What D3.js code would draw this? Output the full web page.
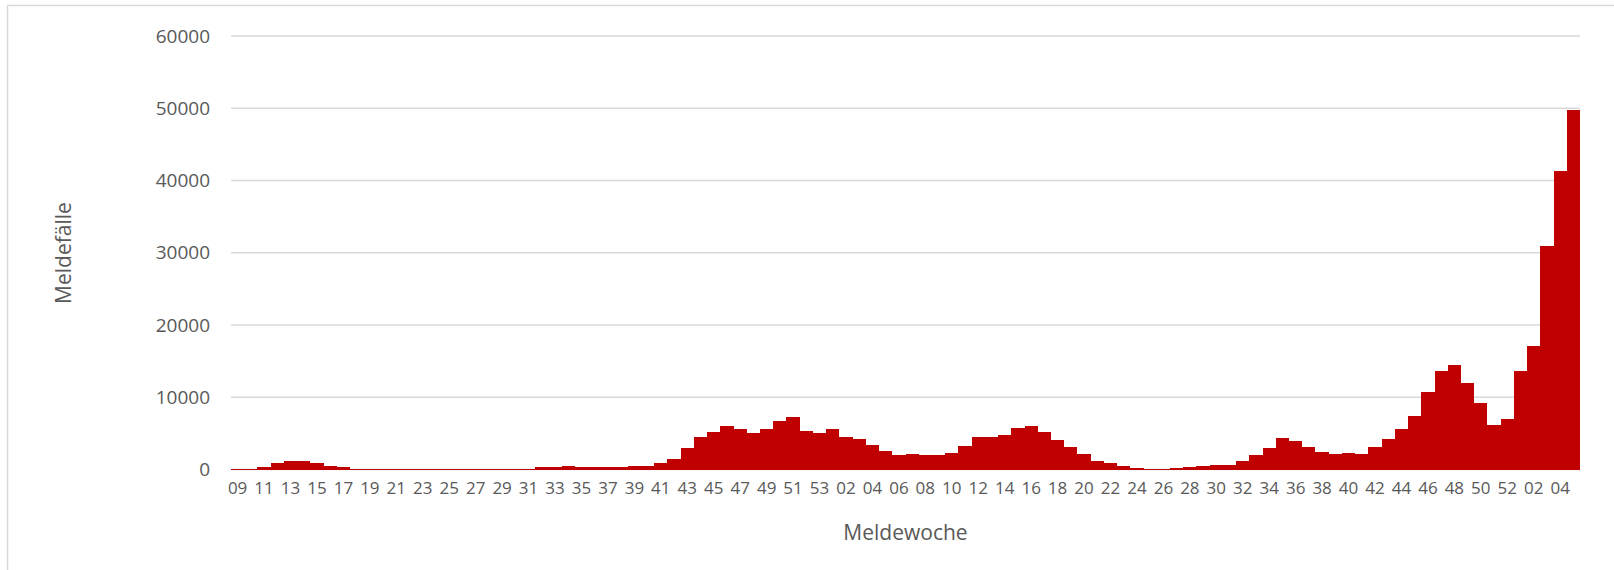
<!DOCTYPE html>
<html>
<head>
<meta charset="utf-8">
<script src="https://cdn.jsdelivr.net/npm/d3@7"></script>
<style>
  html, body { margin: 0; padding: 0; background: #fff; }
  #container { width: 1614px; height: 570px; }
</style>
</head>
<body>
<div id="container"></div>
<script>
// Meldewochen 2020/09 .. 2022/05
const weeks = [
  "09","10","11","12","13","14","15","16","17","18","19","20","21","22","23","24","25","26","27","28","29","30",
  "31","32","33","34","35","36","37","38","39","40","41","42","43","44","45","46","47","48","49","50","51","52","53",
  "01","02","03","04","05","06","07","08","09","10","11","12","13","14","15","16","17","18","19","20","21","22",
  "23","24","25","26","27","28","29","30","31","32","33","34","35","36","37","38","39","40","41","42","43","44",
  "45","46","47","48","49","50","51","52",
  "01","02","03","04","05"
];

const cases = [
  // 2020
  100, 100, 280, 920, 1240, 1240, 920, 550, 280, 100, 100, 90, 90, 90, 90, 90, 90, 90, 90, 100, 100, 110,
  130, 320, 320, 460, 280, 280, 280, 280, 460, 460, 920, 1520, 2960, 4510, 5150, 5980, 5660, 5060, 5660, 6760, 7270, 5340, 5060,
  // 2021
  5660, 4550, 4230, 3450, 2620, 2020, 2160, 2020, 2020, 2350, 3270, 4510, 4510, 4740, 5800, 5980, 5150, 4050, 3080, 2160, 1150, 850,
  520, 230, 100, 100, 230, 370, 550, 690, 690, 1240, 1980, 2940, 4370, 3910, 3130, 2480, 2160, 2300, 2160, 3130, 4230, 5660,
  7400, 10760, 13570, 14400, 12000, 9150, 6160, 7040,
  // 2022
  13620, 17110, 30960, 41310, 49700
];

const yTicks = [0, 10000, 20000, 30000, 40000, 50000, 60000];

const width = 1614, height = 570;
const margin = { top: 36, right: 34, bottom: 100, left: 231 };

const svg = d3.select("#container")
  .append("svg")
  .attr("width", width)
  .attr("height", height);

// Rahmen (rechts/unten abgeschnitten)
svg.append("rect")
  .attr("x", 7.5)
  .attr("y", 5.5)
  .attr("width", width)
  .attr("height", height)
  .attr("fill", "none")
  .attr("stroke", "#d9d9d9")
  .attr("stroke-width", 1.5);

const x = d3.scaleBand()
  .domain(d3.range(cases.length))
  .range([margin.left, width - margin.right])
  .padding(0);

const y = d3.scaleLinear()
  .domain([0, 60000])
  .range([height - margin.bottom - 0.5, margin.top]);

// Gitterlinien
svg.append("g")
  .selectAll("line")
  .data(yTicks)
  .enter().append("line")
  .attr("x1", margin.left)
  .attr("x2", width - margin.right)
  .attr("y1", d => y(d))
  .attr("y2", d => y(d))
  .attr("stroke", "#d9d9d9")
  .attr("stroke-width", 1.5);

// Balken - Kanten gerundet, damit keine hellen Fugen entstehen
const left = i => Math.round(x(i));
const right = i => Math.round(x(i) + x.bandwidth());
svg.append("g")
  .attr("shape-rendering", "crispEdges")
  .selectAll("rect")
  .data(cases)
  .enter().append("rect")
  .attr("x", (d, i) => left(i))
  .attr("width", (d, i) => right(i) - left(i))
  .attr("y", d => y(d))
  .attr("height", d => y(0) - y(d))
  .attr("fill", "#c00000");

// Y-Achse
const yAxis = svg.append("g")
  .attr("transform", `translate(${margin.left},0)`)
  .call(d3.axisLeft(y).tickValues(yTicks).tickSize(0).tickPadding(21).tickFormat(d3.format("d")));
yAxis.select(".domain").remove();
yAxis.selectAll("text")
  .attr("fill", "#595959")
  .style("font-family", "'Open Sans', sans-serif")
  .style("font-size", "19px");

// X-Achse
const xAxis = svg.append("g")
  .attr("transform", `translate(0,${y(0)})`)
  .call(d3.axisBottom(x)
    .tickValues(d3.range(cases.length).filter(i => i % 2 === 0))
    .tickFormat(i => weeks[i])
    .tickSize(0)
    .tickPadding(12));
xAxis.select(".domain").remove();
xAxis.selectAll("text")
  .attr("fill", "#595959")
  .style("font-family", "'Open Sans', sans-serif")
  .style("font-size", "17px");

// Achsentitel
svg.append("text")
  .attr("x", (margin.left + width - margin.right) / 2)
  .attr("y", 540)
  .attr("text-anchor", "middle")
  .attr("fill", "#595959")
  .style("font-family", "'Open Sans', sans-serif")
  .style("font-size", "21px")
  .text("Meldewoche");

svg.append("text")
  .attr("transform", `translate(71,253) rotate(-90)`)
  .attr("text-anchor", "middle")
  .attr("fill", "#595959")
  .style("font-family", "'Open Sans', sans-serif")
  .style("font-size", "21px")
  .text("Meldefälle");
</script>
</body>
</html>
